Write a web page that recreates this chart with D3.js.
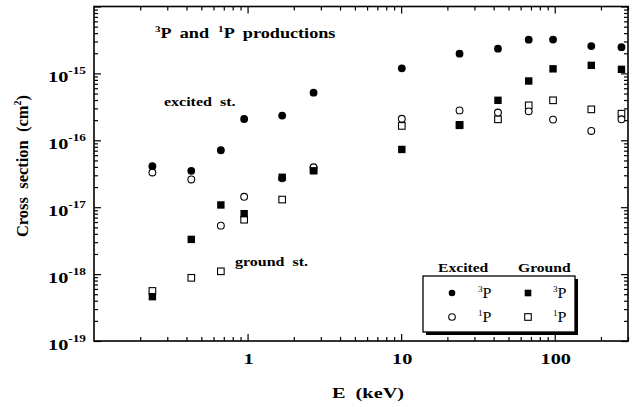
<!DOCTYPE html>
<html>
<head>
<meta charset="utf-8">
<script src="https://cdn.jsdelivr.net/npm/d3@7"></script>
<style>
  body { margin: 0; background: #fff; }
  svg { display: block; }
  text { font-family: "Liberation Serif", "Times New Roman", serif; fill: #000; white-space: pre; }
</style>
</head>
<body>
<svg id="chart" width="636" height="407"></svg>
<script>
// Projectile energies (keV)
const energies  = [0.24, 0.43, 0.67, 0.95, 1.68, 2.69, 10.1, 24, 42.7, 67.7, 97.5, 173, 272];
// Cross sections (cm^2)
const excited3P = [4.1e-17, 3.5e-17, 7.1e-17, 2.08e-16, 2.34e-16, 5.15e-16, 1.19e-15, 1.97e-15, 2.34e-15, 3.19e-15, 3.2e-15, 2.56e-15, 2.47e-15];
const excited1P = [3.3e-17, 2.6e-17, 5.3e-18, 1.43e-17, 2.7e-17, 3.95e-17, 2.1e-16, 2.8e-16, 2.6e-16, 2.71e-16, 2.04e-16, 1.38e-16, 2.06e-16];
const ground3P  = [4.6e-19, 3.3e-18, 1.08e-17, 8.0e-18, 2.8e-17, 3.5e-17, 7.3e-17, 1.67e-16, 3.96e-16, 7.7e-16, 1.17e-15, 1.32e-15, 1.15e-15];
const ground1P  = [5.6e-19, 8.8e-19, 1.1e-18, 6.5e-18, 1.3e-17, 3.6e-17, 1.64e-16, 1.7e-16, 2.06e-16, 3.33e-16, 3.96e-16, 2.9e-16, 2.5e-16];
// Axis tick labels
const xTickValues = [1, 10, 100];
const xTickLabels = ["1", "10", "100"];
const yTickExponents = [-19, -18, -17, -16, -15];

const svg = d3.select("#chart");
const plot = { left: 94, right: 628, top: 6.5, bottom: 341 };
const SX = 1.4; // horizontal stretch of the lettering

const x = d3.scaleLog().domain([0.1, 300]).range([plot.left, plot.right]);
const y = d3.scaleLog().domain([1e-19, 1e-14]).range([plot.bottom, plot.top]);

// text helper: parts = [[string, {size, dy}], ...]
function label(px, py, parts, anchor = "start", size = 15, weight = "bold", rotate = 0, sx = SX) {
  const t = svg.append("text")
    .attr("transform", `translate(${px},${py}) rotate(${rotate}) scale(${sx},1)`)
    .attr("text-anchor", anchor)
    .attr("xml:space", "preserve")
    .style("font-size", size + "px")
    .style("font-weight", weight);
  parts.forEach(([s, o]) => {
    const ts = t.append("tspan").text(s);
    if (o && o.size) ts.style("font-size", o.size + "px");
    if (o && o.dy !== undefined) ts.attr("dy", o.dy);
  });
  return t;
}

// minor tick values for the log axes
const xMinor = [];
for (let d = 0.1; d < 300; d *= 10) for (let k = 2; k <= 9; k++) if (d * k <= 300) xMinor.push(d * k);
const yMinor = [];
for (let e = -19; e < -14; e++) for (let k = 2; k <= 9; k++) yMinor.push(k * Math.pow(10, e));
const yMajor = yTickExponents.map(e => Math.pow(10, e)).concat([1e-14]);

function tickAxis(axis, tx, ty) {
  const g = svg.append("g").attr("transform", `translate(${tx},${ty})`).call(axis);
  g.select(".domain").remove();
  g.selectAll("line").attr("stroke", "#000").attr("stroke-width", 1.2);
  return g;
}
const MAJ = 7, MIN = 4;
tickAxis(d3.axisBottom(x).tickValues(xTickValues).tickSize(-MAJ).tickFormat(""), 0, plot.bottom);
tickAxis(d3.axisBottom(x).tickValues(xMinor).tickSize(-MIN).tickFormat(""), 0, plot.bottom);
tickAxis(d3.axisTop(x).tickValues(xTickValues).tickSize(-MAJ).tickFormat(""), 0, plot.top);
tickAxis(d3.axisTop(x).tickValues(xMinor).tickSize(-MIN).tickFormat(""), 0, plot.top);
tickAxis(d3.axisLeft(y).tickValues(yMajor).tickSize(-MAJ).tickFormat(""), plot.left, 0);
tickAxis(d3.axisLeft(y).tickValues(yMinor).tickSize(-MIN).tickFormat(""), plot.left, 0);
tickAxis(d3.axisRight(y).tickValues(yMajor).tickSize(-MAJ).tickFormat(""), plot.right, 0);
tickAxis(d3.axisRight(y).tickValues(yMinor).tickSize(-MIN).tickFormat(""), plot.right, 0);

// frame
svg.append("rect")
  .attr("x", plot.left).attr("y", plot.top)
  .attr("width", plot.right - plot.left).attr("height", plot.bottom - plot.top)
  .attr("fill", "none").attr("stroke", "#000").attr("stroke-width", 1.6);

// tick labels
xTickValues.forEach((v, i) => label(x(v) + 1, 364, [[xTickLabels[i]]], "middle", 14.5));
yTickExponents.forEach(e => {
  label(86, y(Math.pow(10, e)) + 8.5, [["10"], ["-" + Math.abs(e), { size: 9.5, dy: -7.5 }]], "end", 14.5);
});

// axis titles
label(368, 398, [["E  (keV)"]], "middle", 14.5);
label(28, 166, [["Cross  section  (cm"], ["2", { size: 10, dy: -7 }], [")", { dy: 7 }]], "middle", 16.5, "bold", -90, 1);

// annotations
label(155, 38, [["3", { size: 8.5, dy: -6 }], ["P  and  ", { dy: 6 }], ["1", { size: 8.5, dy: -6 }], ["P  productions", { dy: 6 }]], "start", 14, "bold", 0, 1.3);
label(164, 106, [["excited  st."]], "start", 12.5, "bold", 0, 1.28);
label(235, 266, [["ground  st."]], "start", 12.5, "bold", 0, 1.28);

// data markers: open symbols beneath filled ones
const R = 3.9, S = 7.4;
function circles(vals, filled) {
  svg.append("g").selectAll("circle").data(energies.map((e, i) => [e, vals[i]])).join("circle")
    .attr("cx", d => x(d[0])).attr("cy", d => y(d[1]))
    .attr("r", filled ? R : R - 0.5)
    .attr("fill", filled ? "#000" : "#fff")
    .attr("stroke", "#000").attr("stroke-width", filled ? 0 : 1.1);
}
function squares(vals, filled) {
  const s = filled ? S : S - 0.8;
  svg.append("g").selectAll("rect").data(energies.map((e, i) => [e, vals[i]])).join("rect")
    .attr("x", d => x(d[0]) - s / 2).attr("y", d => y(d[1]) - s / 2)
    .attr("width", s).attr("height", s)
    .attr("fill", filled ? "#000" : "#fff")
    .attr("stroke", "#000").attr("stroke-width", filled ? 0 : 1.1);
}
squares(ground1P, false);
circles(excited1P, false);
squares(ground3P, true);
circles(excited3P, true);

// legend
const lg = { x: 423, y: 276, w: 152, h: 56 };
svg.append("rect").attr("x", lg.x + 3).attr("y", lg.y + 3).attr("width", lg.w).attr("height", lg.h).attr("fill", "#000");
svg.append("rect").attr("x", lg.x).attr("y", lg.y).attr("width", lg.w).attr("height", lg.h)
  .attr("fill", "#fff").attr("stroke", "#000").attr("stroke-width", 1.3);
label(438, 272, [["Excited"]], "start", 12.5, "bold", 0, 1.25);
label(518, 272, [["Ground"]], "start", 12.5, "bold", 0, 1.25);
const rows = [{ yy: 293, sup: "3", filled: true }, { yy: 317, sup: "1", filled: false }];
rows.forEach(r => {
  svg.append("circle").attr("cx", 452).attr("cy", r.yy).attr("r", 3.3)
    .attr("fill", r.filled ? "#000" : "#fff").attr("stroke", "#000").attr("stroke-width", r.filled ? 0 : 1.1);
  svg.append("rect").attr("x", 528 - 3.3).attr("y", r.yy - 3.3).attr("width", 6.6).attr("height", 6.6)
    .attr("fill", r.filled ? "#000" : "#fff").attr("stroke", "#000").attr("stroke-width", r.filled ? 0 : 1.1);
  [478, 553].forEach(px => {
    label(px, r.yy + 5, [[r.sup, { size: 8, dy: -6 }], ["P", { dy: 6 }]], "start", 14, "normal", 0, 1.15);
  });
});
</script>
</body>
</html>
